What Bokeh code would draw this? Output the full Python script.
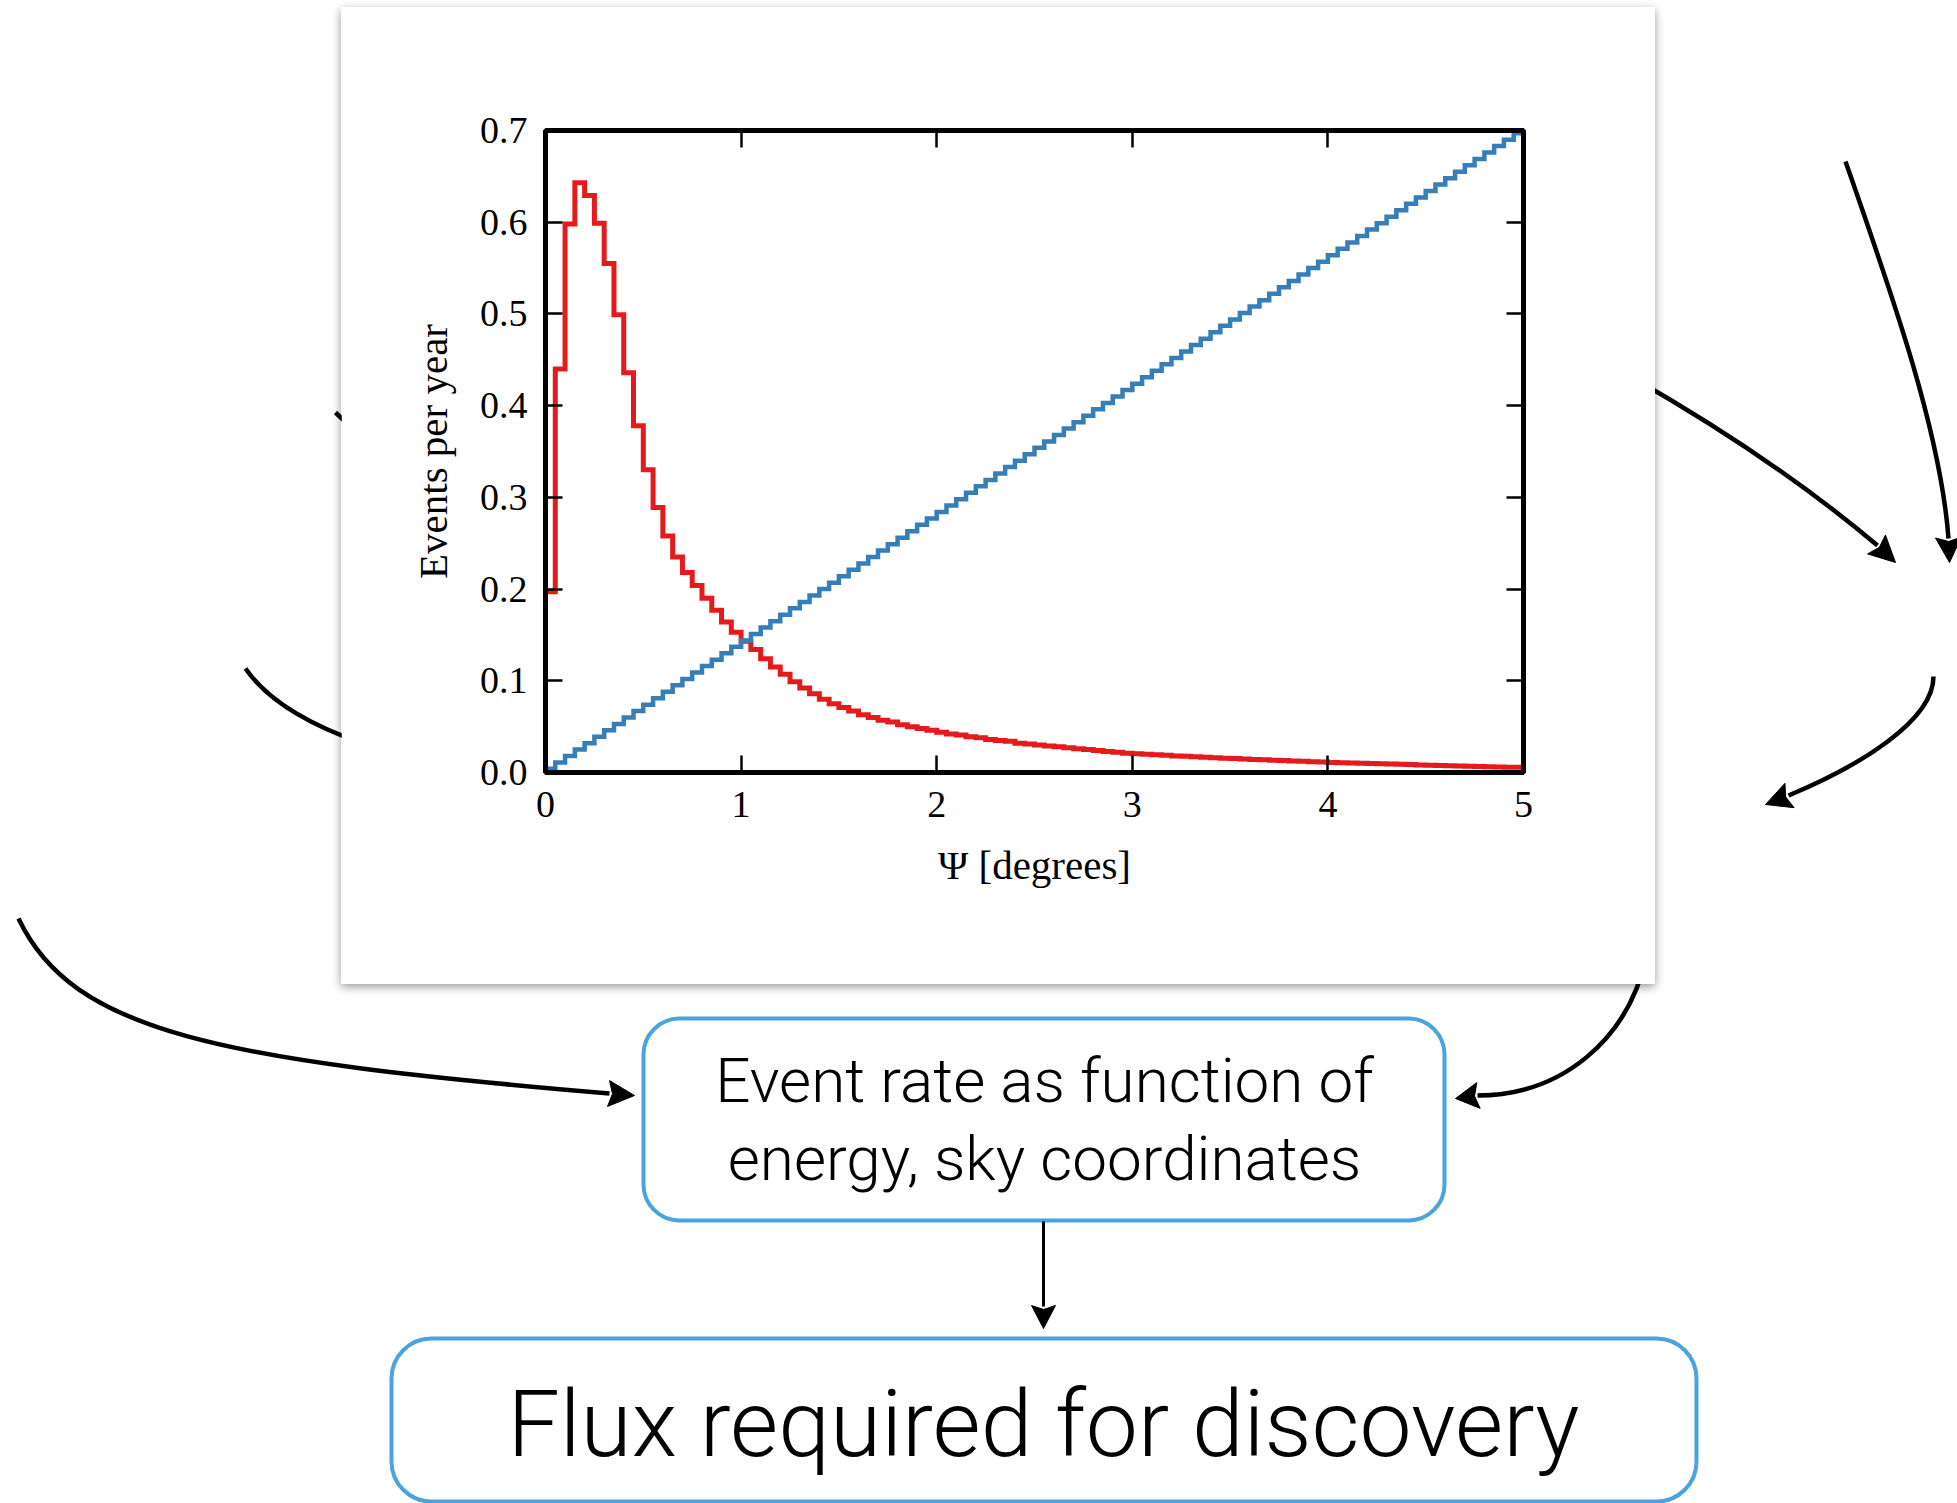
import math
from bokeh.plotting import figure
from bokeh.models import (Range1d, LinearAxis, FixedTicker, BoxAnnotation,
                          NumeralTickFormatter, CustomJSTickFormatter)
from bokeh.embed import file_html
from bokeh.resources import INLINE
from bokeh.core.properties import value

# ---------------------------------------------------------------- chart data
BIN_WIDTH = 0.05
psi_edges = [round(i * BIN_WIDTH, 2) for i in range(101)]   # bin edges, degrees

# red histogram (source signal), events per year per 0.05 deg bin
signal_rate = [
    0.197, 0.440, 0.598, 0.643, 0.629, 0.599, 0.555, 0.499, 0.436, 0.378,
    0.330, 0.289, 0.258, 0.235, 0.218, 0.204, 0.190, 0.177, 0.164, 0.153,
    0.143, 0.134, 0.124, 0.115, 0.107, 0.099, 0.092, 0.086, 0.080, 0.075,
    0.071, 0.067, 0.063, 0.060, 0.057, 0.055, 0.052, 0.050, 0.048, 0.046,
    0.044, 0.042, 0.041, 0.039, 0.038, 0.036, 0.035, 0.034, 0.032, 0.031,
    0.030, 0.029, 0.028, 0.027, 0.026, 0.025, 0.024, 0.023, 0.022, 0.021,
    0.0205, 0.0199, 0.0193, 0.0187, 0.0181, 0.0176, 0.0171, 0.0166, 0.0161, 0.0156,
    0.0152, 0.0148, 0.0143, 0.0139, 0.0134, 0.0130, 0.0126, 0.0122, 0.0118, 0.0114,
    0.0110, 0.0107, 0.0104, 0.0101, 0.0098, 0.0095, 0.0092, 0.0089, 0.0086, 0.0083,
    0.0080, 0.0077, 0.0074, 0.0071, 0.0068, 0.0066, 0.0063, 0.0061, 0.0058, 0.0056,
]

# blue histogram (background), events per year per bin
background_rate = [
    0.004, 0.011, 0.018, 0.025, 0.032, 0.039, 0.046, 0.053, 0.060, 0.067,
    0.074, 0.081, 0.088, 0.095, 0.102, 0.109, 0.116, 0.123, 0.130, 0.137,
    0.144, 0.151, 0.158, 0.165, 0.172, 0.179, 0.186, 0.193, 0.200, 0.207,
    0.214, 0.221, 0.228, 0.235, 0.242, 0.249, 0.256, 0.263, 0.270, 0.277,
    0.284, 0.291, 0.298, 0.305, 0.312, 0.319, 0.326, 0.333, 0.340, 0.347,
    0.354, 0.361, 0.368, 0.375, 0.382, 0.389, 0.396, 0.403, 0.410, 0.417,
    0.424, 0.431, 0.438, 0.445, 0.452, 0.459, 0.466, 0.473, 0.480, 0.487,
    0.494, 0.501, 0.508, 0.515, 0.522, 0.529, 0.536, 0.543, 0.550, 0.557,
    0.564, 0.571, 0.578, 0.585, 0.592, 0.599, 0.606, 0.613, 0.620, 0.627,
    0.634, 0.641, 0.648, 0.655, 0.662, 0.669, 0.676, 0.683, 0.690, 0.697,
]

x_ticks = [0, 1, 2, 3, 4, 5]
y_ticks = [0.0, 0.1, 0.2, 0.3, 0.4, 0.5, 0.6, 0.7]
x_label = "Ψ [degrees]"
y_label = "Events per year"

box1_lines = ["Event rate as function of", "energy, sky coordinates"]
box2_text = "Flux required for discovery"

# ---------------------------------------------------------------- styles
RED = "#e41a1c"
BLUE = "#377eb8"
BOX_BLUE = "#4aa3df"
SERIF = "Liberation Serif"
SANS = "Roboto Light"

# ---------------------------------------------------------------- diagram layer (page pixel coords)
bg = figure(width=1957, height=1503, x_range=Range1d(0, 1957), y_range=Range1d(-1503, 0),
            toolbar_location=None, output_backend="svg", min_border=0,
            x_axis_location=None, y_axis_location=None)
bg.grid.visible = False
bg.outline_line_color = None
bg.background_fill_color = "white"
bg.border_fill_color = "white"

# cubic connector curves: (x0, y0, cx0, cy0, cx1, cy1, x1, y1), y measured downward
curves = [
    (335, 412, 350, 426, 365, 441, 380, 455),
    (245, 668, 265, 697, 303, 722, 360, 742),
    (18, 918, 72, 1032, 218, 1060, 609, 1093),
    (1630, 376, 1723, 429, 1806, 485, 1877, 545),
    (1845, 161, 1890, 290, 1940, 430, 1948, 538),
    (1933, 676, 1933, 720, 1860, 765, 1788, 795),
    (1646, 955, 1628, 1040, 1560, 1095, 1477, 1095),
]
bg.bezier(x0=[c[0] for c in curves], y0=[-c[1] for c in curves],
          cx0=[c[2] for c in curves], cy0=[-c[3] for c in curves],
          cx1=[c[4] for c in curves], cy1=[-c[5] for c in curves],
          x1=[c[6] for c in curves], y1=[-c[7] for c in curves],
          line_color="black", line_width=4.5)

# straight connector
bg.segment(x0=[1043], y0=[-1221], x1=[1043], y1=[-1306], line_color="black", line_width=3)

# arrow heads: (tip_x, tip_y, base_x, base_y, width)
heads = [
    (634, 1095, 608, 1093, 26),
    (1895, 562, 1876, 544, 26),
    (1949, 562, 1948, 537, 26),
    (1765, 804, 1789, 795, 26),
    (1455, 1098, 1478, 1095, 26),
    (1043, 1328, 1043, 1305, 24),
]
hx, hy = [], []
for tx, ty, bx, by, w in heads:
    dx, dy = tx - bx, ty - by
    L = math.hypot(dx, dy)
    ux, uy = dx / L, dy / L
    nx, ny = -uy, ux
    xs = [tx, bx + nx * w / 2, bx + ux * 4, bx - nx * w / 2]
    ys = [ty, by + ny * w / 2, by + uy * 4, by - ny * w / 2]
    hx.append(xs)
    hy.append([-v for v in ys])
bg.patches(xs=hx, ys=hy, fill_color="black", line_color="black", line_width=1)

# rounded boxes
bg.add_layout(BoxAnnotation(left=643, right=1444, top=-1018, bottom=-1220,
                            fill_color="white", fill_alpha=1.0, line_color=BOX_BLUE,
                            line_alpha=1.0, line_width=4, border_radius=36, level="underlay"))
bg.add_layout(BoxAnnotation(left=391, right=1696, top=-1338, bottom=-1501,
                            fill_color="white", fill_alpha=1.0, line_color=BOX_BLUE,
                            line_alpha=1.0, line_width=4, border_radius=40, level="underlay"))

bg.text(x=[1044, 1044], y=[-1080, -1158], text=box1_lines,
        text_font=value(SANS), text_font_size="62px", text_color="black",
        text_align="center", text_baseline="middle")
bg.text(x=[1043], y=[-1424], text=[box2_text],
        text_font=value(SANS), text_font_size="93px", text_color="black",
        text_align="center", text_baseline="middle")

# ---------------------------------------------------------------- chart card
chart = figure(width=1314, height=977, x_range=Range1d(0, 5), y_range=Range1d(0, 0.7),
               toolbar_location=None, output_backend="svg",
               min_border_left=204, min_border_right=132,
               min_border_top=123, min_border_bottom=212,
               x_axis_label=x_label, y_axis_label=y_label)
chart.grid.visible = False
chart.background_fill_color = "white"
chart.border_fill_color = "white"
chart.outline_line_color = "black"
chart.outline_line_width = 5
chart.outline_line_alpha = 1.0

chart.step(x=psi_edges, y=signal_rate + [signal_rate[-1]], mode="after",
           line_color=RED, line_width=5, line_join="miter")
chart.step(x=psi_edges, y=background_rate + [background_rate[-1]], mode="after",
           line_color=BLUE, line_width=4.5, line_join="miter")

bottom_axis = chart.below[0]
left_axis = chart.left[0]
bottom_axis.ticker = FixedTicker(ticks=x_ticks)
left_axis.ticker = FixedTicker(ticks=y_ticks)
left_axis.formatter = NumeralTickFormatter(format="0.0")

top_axis = LinearAxis(ticker=FixedTicker(ticks=x_ticks),
                      formatter=CustomJSTickFormatter(code="return ''"))
right_axis = LinearAxis(ticker=FixedTicker(ticks=y_ticks),
                        formatter=CustomJSTickFormatter(code="return ''"))
chart.add_layout(top_axis, "above")
chart.add_layout(right_axis, "right")

for ax in [bottom_axis, left_axis, top_axis, right_axis]:
    ax.major_tick_in = 17
    ax.major_tick_out = 0
    ax.major_tick_line_width = 2.5
    ax.major_tick_line_color = "black"
    ax.minor_tick_line_color = None
    ax.axis_line_color = "black"
    ax.axis_line_width = 5
    ax.major_label_text_font = SERIF
    ax.major_label_text_font_size = "38px"
    ax.major_label_text_color = "black"
    ax.axis_label_text_font = SERIF
    ax.axis_label_text_font_size = "41px"
    ax.axis_label_text_font_style = "normal"
    ax.axis_label_text_color = "black"

left_axis.major_label_standoff = 18
left_axis.axis_label_standoff = 21
bottom_axis.major_label_standoff = 19
bottom_axis.axis_label_standoff = 22

chart.styles = {"position": "absolute", "left": "341px", "top": "7px",
                "box-shadow": "0px 3px 9px rgba(0,0,0,0.4)"}

open("out.html", "w").write(file_html([bg, chart], INLINE))
